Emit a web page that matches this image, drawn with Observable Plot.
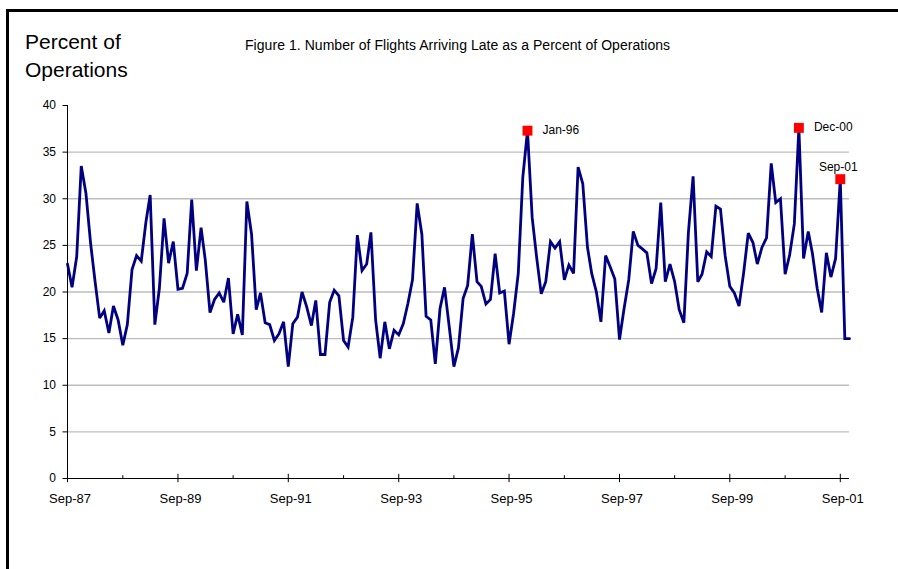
<!DOCTYPE html>
<html>
<head>
<meta charset="utf-8">
<script src="https://cdn.jsdelivr.net/npm/d3@7"></script>
<script src="https://cdn.jsdelivr.net/npm/@observablehq/plot@0.6"></script>
<style>
  html, body { margin: 0; padding: 0; background: #fff; }
  #wrap { position: relative; width: 898px; height: 569px; overflow: hidden; font-family: Arial, "Liberation Sans", sans-serif; }
  #frame { position: absolute; left: 6px; top: 9px; width: 900px; height: 570px; border-left: 3px solid #000; border-top: 3px solid #000; z-index: 2; }
  .t { position: absolute; white-space: nowrap; color: #000; z-index: 3; }
  #ylab1 { left: 25px; top: 30px; font-size: 21px; }
  #ylab2 { left: 25px; top: 58px; font-size: 21px; }
  #title { left: 245px; top: 37px; font-size: 14px; letter-spacing: 0.05px; }
  #chart { position: absolute; left: 0; top: 0; z-index: 1; }
</style>
</head>
<body>
<div id="wrap">
  <div id="frame"></div>
  <div class="t" id="ylab1">Percent of</div>
  <div class="t" id="ylab2">Operations</div>
  <div class="t" id="title">Figure 1. Number of Flights Arriving Late as a Percent of Operations</div>
  <div id="chart"></div>
</div>
<script>
// Monthly series, Sep-87 through Nov-01 (percent of operations arriving late)
const startYear = 1987;
const startMonth = 8; // September (0-based)
const lateValues = [
  23.0, 20.5, 23.8, 33.5, 30.6, 25.2, 21.2, 17.2, 18.0, 15.6, 18.5, 17.0,
  14.3, 16.5, 22.4, 23.9, 23.3, 27.5, 30.4, 16.5, 20.4, 27.9, 23.1, 25.4,
  20.3, 20.4, 22.0, 29.9, 22.3, 26.9, 23.4, 17.8, 19.2, 19.9, 18.9, 21.5,
  15.5, 17.6, 15.4, 29.7, 26.2, 18.1, 19.9, 16.7, 16.5, 14.8, 15.5, 16.8,
  12.0, 16.6, 17.3, 20.0, 18.4, 16.4, 19.1, 13.3, 13.3, 18.9, 20.2, 19.6,
  14.8, 14.1, 17.3, 26.1, 22.3, 23.0, 26.4, 17.0, 12.9, 16.8, 13.9, 15.9,
  15.4, 16.6, 18.8, 21.3, 29.5, 26.2, 17.4, 17.0, 12.3, 18.2, 20.5, 16.3,
  12.0, 14.0, 19.3, 20.7, 26.2, 21.1, 20.6, 18.7, 19.2, 24.1, 19.9, 20.1,
  14.4, 17.7, 22.0, 32.3, 37.3, 28.0, 23.8, 19.8, 21.1, 25.4, 24.7, 25.4,
  21.3, 22.9, 22.0, 33.4, 31.6, 24.8, 22.0, 20.0, 16.8, 23.9, 22.7, 21.4,
  14.9, 18.2, 21.3, 26.5, 25.0, 24.6, 24.2, 20.9, 22.5, 29.6, 21.1, 23.0,
  21.1, 18.1, 16.7, 26.4, 32.4, 21.1, 21.9, 24.3, 23.8, 29.2, 28.9, 23.9,
  20.6, 19.9, 18.5, 22.0, 26.3, 25.3, 23.0, 24.8, 25.8, 33.8, 29.6, 30.0,
  21.9, 24.0, 27.3, 37.6, 23.6, 26.5, 24.1, 20.4, 17.8, 24.2, 21.6, 23.6,
  32.1, 15.0, 15.0
];

// Highlighted months (year, month 0-based) and their labels
const highlightLabels = ["Jan-96", "Dec-00", "Sep-01"];
const highlightYears = [1996, 2000, 2001];
const highlightMonths = [0, 11, 8];

// Axis tick labels
const majorTickLabels = ["Sep-87", "Sep-89", "Sep-91", "Sep-93", "Sep-95", "Sep-97", "Sep-99", "Sep-01"];
const majorTickYears = [1987, 1989, 1991, 1993, 1995, 1997, 1999, 2001];
const minorTickYears = [1988, 1990, 1992, 1994, 1996, 1998, 2000];
const yTicks = [0, 5, 10, 15, 20, 25, 30, 35, 40];
const gridValues = [5, 10, 15, 20, 25, 30, 35];

const start = new Date(Date.UTC(startYear, startMonth, 1));
const series = lateValues.map((v, i) => ({date: d3.utcMonth.offset(start, i), value: v}));
const endDate = series[series.length - 1].date;

const highlights = highlightLabels.map((label, k) => {
  const date = new Date(Date.UTC(highlightYears[k], highlightMonths[k], 1));
  const row = series.find(d => +d.date === +date);
  return {label, date, value: row.value};
});
const majorTicks = majorTickYears.map(y => new Date(Date.UTC(y, 8, 1)));
const minorTicks = minorTickYears.map(y => new Date(Date.UTC(y, 8, 1)));
const tickLabelMap = new Map(majorTicks.map((d, i) => [+d, majorTickLabels[i]]));

const chart = Plot.plot({
  width: 898,
  height: 569,
  marginLeft: 67,
  marginRight: 49,
  marginTop: 105,
  marginBottom: 91,
  style: {fontFamily: 'Arial, "Liberation Sans", sans-serif', fontSize: "13px", background: "transparent", overflow: "visible"},
  x: {type: "utc", domain: [start, endDate]},
  y: {domain: [0, 40]},
  marks: [
    Plot.ruleY(gridValues, {stroke: "#bdbdbd", strokeWidth: 1.3}),
    Plot.ruleX([start], {y1: 0, y2: 40, stroke: "#000", strokeWidth: 1}),
    Plot.ruleY([0], {stroke: "#000", strokeWidth: 1.2}),
    Plot.ruleX(majorTicks, {x: d => d, y1: -0.45, y2: 0.45, stroke: "#000", strokeWidth: 1}),
    Plot.ruleX(minorTicks, {x: d => d, y1: 0, y2: 0.3, stroke: "#000", strokeWidth: 1}),
    Plot.axisY({ticks: yTicks, tickSize: 4.5, tickPadding: 7, fontSize: 12, label: null}),
    Plot.axisX({ticks: majorTicks, tickFormat: d => tickLabelMap.get(+d), tickSize: 0, tickPadding: 15, dx: 2.5, fontSize: 13, label: null}),
    Plot.line(series, {x: "date", y: "value", stroke: "#000080", strokeWidth: 2.8, strokeLinejoin: "miter", strokeMiterlimit: 3}),
    Plot.dot(highlights, {x: "date", y: "value", symbol: "square", r: 5.6, fill: "#ff0000", stroke: null}),
    Plot.text(highlights.slice(0, 2), {x: "date", y: "value", text: "label", textAnchor: "start", dx: 15, dy: -1, fontSize: 12, fill: "#000"}),
    Plot.text(highlights.slice(2), {x: "date", y: "value", text: "label", textAnchor: "middle", dx: -2, dy: -12, fontSize: 12, fill: "#000"})
  ]
});
document.getElementById("chart").appendChild(chart);
</script>
</body>
</html>
